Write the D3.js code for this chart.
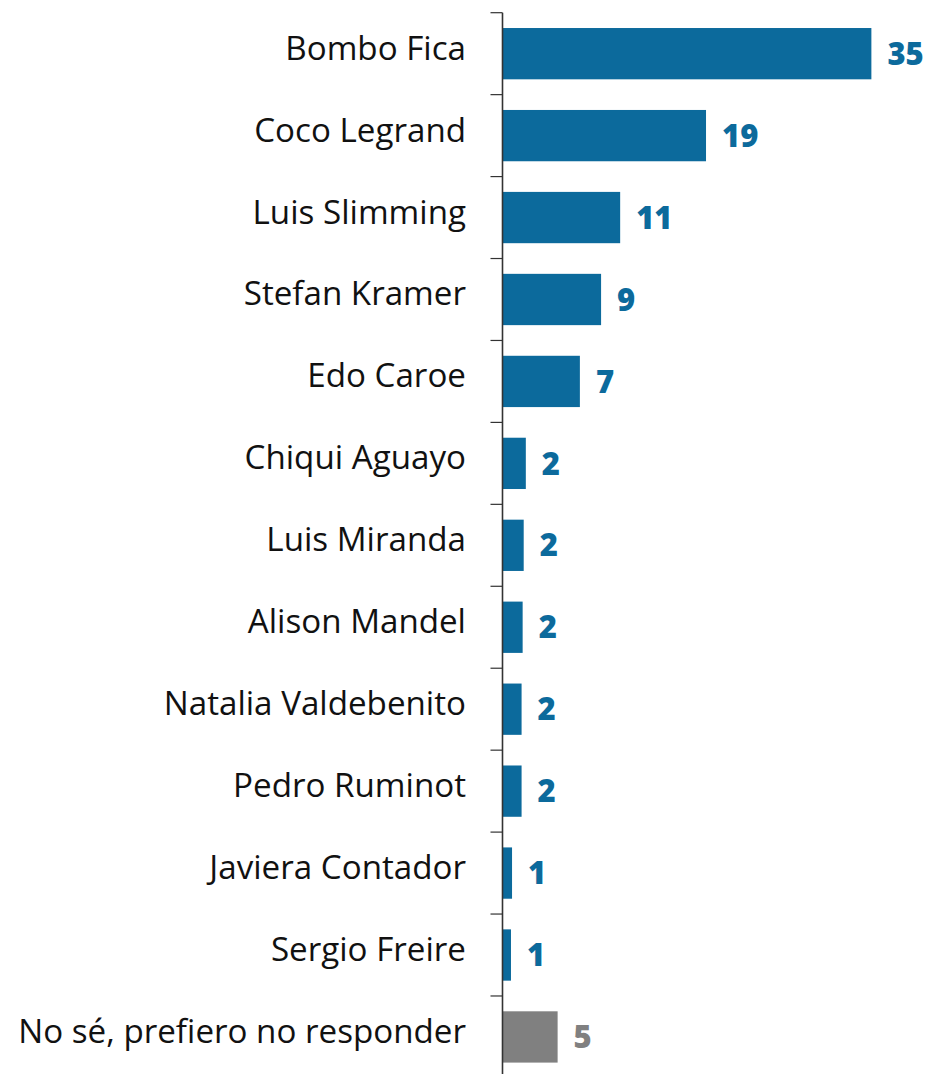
<!DOCTYPE html>
<html>
<head>
<meta charset="utf-8">
<script src="https://cdn.jsdelivr.net/npm/d3@7"></script>
<style>
  html, body { margin: 0; padding: 0; background: #ffffff; }
  svg { display: block; }
</style>
</head>
<body>
<div id="chart"></div>
<script>
// ---- data ----
const categories = [
  "Bombo Fica", "Coco Legrand", "Luis Slimming", "Stefan Kramer", "Edo Caroe",
  "Chiqui Aguayo", "Luis Miranda", "Alison Mandel", "Natalia Valdebenito",
  "Pedro Ruminot", "Javiera Contador", "Sergio Freire", "No sé, prefiero no responder"
];
// bar lengths
const values = [34.8, 19.2, 11.1, 9.3, 7.3, 2.2, 2.0, 1.9, 1.8, 1.8, 0.9, 0.8, 5.2];
// labels as printed
const valueLabels = ["35", "19", "11", "9", "7", "2", "2", "2", "2", "2", "1", "1", "5"];
const isNeutral = [false, false, false, false, false, false, false, false, false, false, false, false, true];

(function () {
const W = 933, H = 1074;
const axisX = 502.5;
const yTop = 12.7, yBottom = 12.7 + 13 * 81.94;
const pxPerUnit = 10.6;

const svg = d3.select("#chart").append("svg")
  .attr("width", W).attr("height", H);

const y = d3.scaleBand()
  .domain(categories)
  .range([yTop, yBottom])
  .paddingInner(0.374)
  .paddingOuter(0.187);

const x = d3.scaleLinear()
  .domain([0, 35])
  .range([axisX, axisX + 35 * pxPerUnit]);

const data = categories.map((c, i) => ({ c, v: values[i], lab: valueLabels[i], n: isNeutral[i] }));

// bars
svg.append("g").selectAll("rect").data(data).join("rect")
  .attr("x", x(0))
  .attr("y", d => y(d.c))
  .attr("width", d => x(d.v) - x(0))
  .attr("height", y.bandwidth())
  .attr("fill", d => d.n ? "#808080" : "#0c6a9c");

// value labels
svg.append("g").selectAll("text").data(data).join("text")
  .attr("x", d => x(d.v) + 16)
  .attr("y", d => y(d.c) + y.bandwidth() / 2)
  .attr("dy", "0.36em")
  .attr("font-family", "Open Sans, sans-serif")
  .attr("font-weight", 800)
  .attr("font-size", 31)
  .attr("fill", d => d.n ? "#808080" : "#0c6a9c")
  .text(d => d.lab);

// axis line + ticks at band boundaries
const step = y.step();
const g = svg.append("g");
g.append("line")
  .attr("x1", axisX).attr("x2", axisX)
  .attr("y1", yTop).attr("y2", H)
  .attr("stroke", "#333").attr("stroke-width", 1.6);
g.selectAll("line.tick").data(d3.range(categories.length + 1)).join("line")
  .attr("class", "tick")
  .attr("x1", axisX - 12).attr("x2", axisX)
  .attr("y1", i => yTop + i * step).attr("y2", i => yTop + i * step)
  .attr("stroke", "#333").attr("stroke-width", 1.2);

// category labels
const labels = g.append("g").selectAll("text").data(data).join("text")
  .attr("x", 466)
  .attr("y", d => y(d.c) + y.bandwidth() / 2 + 6)
  .attr("text-anchor", "end")
  .attr("font-family", "Open Sans, sans-serif")
  .attr("font-size", 30)
  .attr("fill", "#111")
  .text(d => d.c);

// fit longest label width to reference (about 448px)
const longest = labels.filter(d => d.c === categories[categories.length - 1]).node();
const wNow = longest.getComputedTextLength();
const fs = 30 * 448 / wNow;
labels.attr("font-size", fs);
})();
</script>
</body>
</html>
